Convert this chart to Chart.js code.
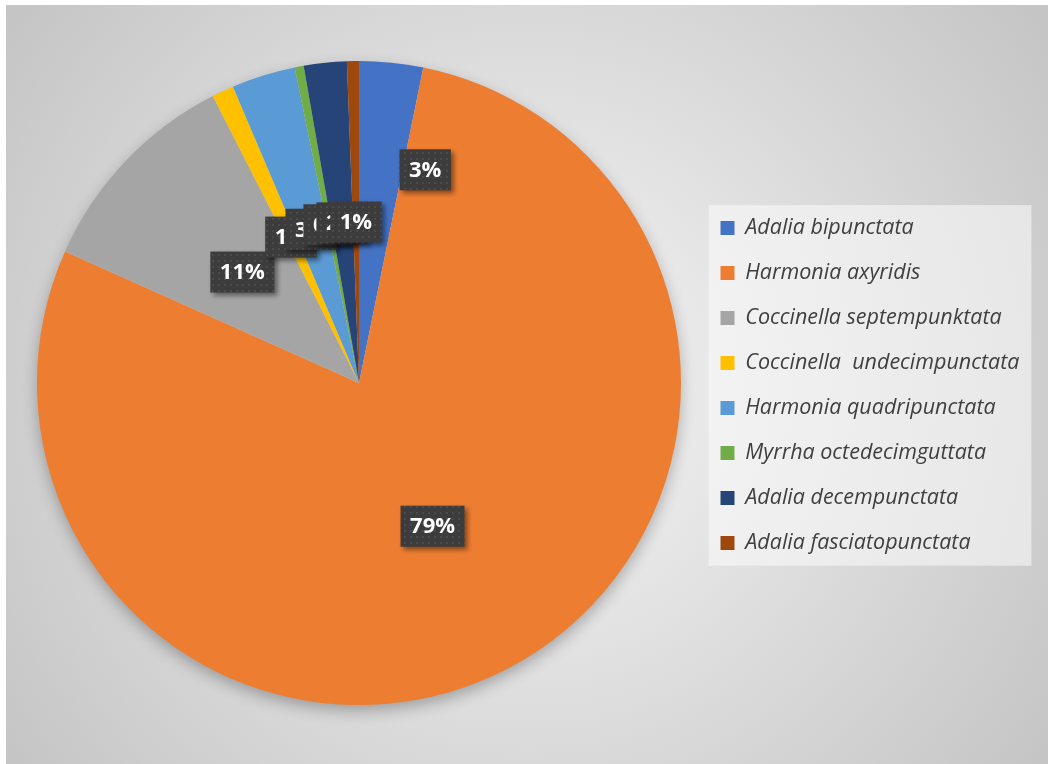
<!DOCTYPE html>
<html>
<head>
<meta charset="utf-8">
<script src="https://cdn.jsdelivr.net/npm/chart.js@4.4.1/dist/chart.umd.min.js"></script>
<style>
  html, body { margin: 0; padding: 0; background: #fff; overflow: hidden; }
  #wrap { position: relative; width: 1048px; height: 764px; }
</style>
</head>
<body>
<div id="wrap"><canvas id="pie"></canvas></div>
<script>
// species share of collected ladybirds (%)
const species = [
  'Adalia bipunctata',
  'Harmonia axyridis',
  'Coccinella septempunktata',
  'Coccinella  undecimpunctata',
  'Harmonia quadripunctata',
  'Myrrha octedecimguttata',
  'Adalia decempunctata',
  'Adalia fasciatopunctata'
];
const shares = [3.2, 78.5, 10.8, 1.1, 3.2, 0.45, 2.15, 0.6];
const colors = ['#4472C4', '#ED7D31', '#A5A5A5', '#FFC000', '#5B9BD5', '#70AD47', '#264478', '#9E480E'];

const legendFont = { family: 'Open Sans', size: 21.5, style: 'italic' };
const legendPad = 23.5;

// work out how wide the legend will be so the pie lands where we want it
const measure = document.createElement('canvas').getContext('2d');
measure.font = 'italic 21.5px "Open Sans"';
const longest = Math.max(...species.map(s => measure.measureText(s).width));
const legendWidth = legendPad + 14 + legendFont.size / 2 + longest + 10;
const padRight = Math.max(0, 1048 - 697 - legendWidth);

// dark dotted fill used behind the percentage labels
function dotPattern(ctx) {
  const c = document.createElement('canvas');
  c.width = 6; c.height = 6;
  const p = c.getContext('2d');
  p.fillStyle = '#3c3c3c';
  p.fillRect(0, 0, 6, 6);
  p.fillStyle = '#4b4b4b';
  p.fillRect(2, 2, 2, 2);
  return ctx.createPattern(c, 'repeat');
}

const backdrop = {
  id: 'backdrop',
  beforeDraw(chart) {
    const { ctx, width, height } = chart;
    ctx.save();
    ctx.fillStyle = '#ffffff';
    ctx.fillRect(0, 0, width, height);
    const g = ctx.createRadialGradient(527, 390, 0, 527, 390, 660);
    g.addColorStop(0, '#f6f6f6');
    g.addColorStop(1, '#c3c3c3');
    ctx.fillStyle = g;
    ctx.fillRect(6, 5, width - 6, height - 5);

    // legend panel
    const boxes = chart.legend.legendHitBoxes;
    if (boxes && boxes.length) {
      const l = Math.min(...boxes.map(b => b.left)) - 12;
      const r = Math.max(...boxes.map(b => b.left + b.width)) + 12;
      const t = boxes[0].top - 12;
      const last = boxes[boxes.length - 1];
      const b = last.top + last.height + 12;
      ctx.fillStyle = 'rgba(252,252,252,0.55)';
      ctx.fillRect(l, t, r - l, b - t);
    }
    ctx.restore();
  },
  beforeDatasetsDraw(chart) {
    // soft shadow under the whole pie
    const arc = chart.getDatasetMeta(0).data[0];
    if (!arc) return;
    const { x, y, outerRadius } = arc.getProps(['x', 'y', 'outerRadius'], true);
    const ctx = chart.ctx;
    ctx.save();
    ctx.shadowColor = 'rgba(0,0,0,0.3)';
    ctx.shadowBlur = 16;
    ctx.shadowOffsetY = 6;
    ctx.fillStyle = '#d0d0d0';
    ctx.beginPath();
    ctx.arc(x, y, outerRadius - 1, 0, Math.PI * 2);
    ctx.fill();
    ctx.restore();
  }
};

const pctLabels = {
  id: 'pctLabels',
  afterDatasetsDraw(chart, args, opts) {
    const ctx = chart.ctx;
    const data = chart.data.datasets[0].data;
    const total = data.reduce((a, b) => a + b, 0);
    const fill = dotPattern(ctx);
    ctx.save();
    ctx.font = 'bold 22px "Open Sans"';
    ctx.textAlign = 'center';
    ctx.textBaseline = 'middle';
    chart.getDatasetMeta(0).data.forEach((arc, i) => {
      const pos = arc.tooltipPosition(true);
      const shift = opts.shift[i] || [0, 0];
      const cx = pos.x + shift[0];
      const cy = pos.y + shift[1];
      const text = Math.round(data[i] / total * 100) + '%';
      const w = ctx.measureText(text).width + 19;
      const h = 41;
      ctx.save();
      ctx.shadowColor = 'rgba(0,0,0,0.45)';
      ctx.shadowBlur = 5;
      ctx.shadowOffsetX = 3;
      ctx.shadowOffsetY = 3;
      ctx.fillStyle = fill;
      ctx.fillRect(cx - w / 2, cy - h / 2, w, h);
      ctx.restore();
      ctx.fillStyle = '#ffffff';
      ctx.fillText(text, cx, cy + 1);
    });
    ctx.restore();
  }
};

new Chart(document.getElementById('pie'), {
  type: 'pie',
  data: {
    labels: species,
    datasets: [{
      data: shares,
      backgroundColor: colors,
      borderWidth: 0
    }]
  },
  options: {
    responsive: true,
    maintainAspectRatio: false,
    animation: false,
    events: [],
    layout: { padding: { left: 21, right: padRight, top: 61, bottom: 59 } },
    plugins: {
      tooltip: { enabled: false },
      legend: {
        position: 'right',
        // empty title only nudges the list a few pixels down
        title: { display: true, text: '', padding: 0, font: { size: 4 } },
        labels: {
          boxWidth: 14,
          boxHeight: 14,
          padding: legendPad,
          color: '#404040',
          font: legendFont
        }
      },
      pctLabels: { shift: [[50, -53]] }
    }
  },
  plugins: [backdrop, pctLabels]
});
</script>
</body>
</html>
